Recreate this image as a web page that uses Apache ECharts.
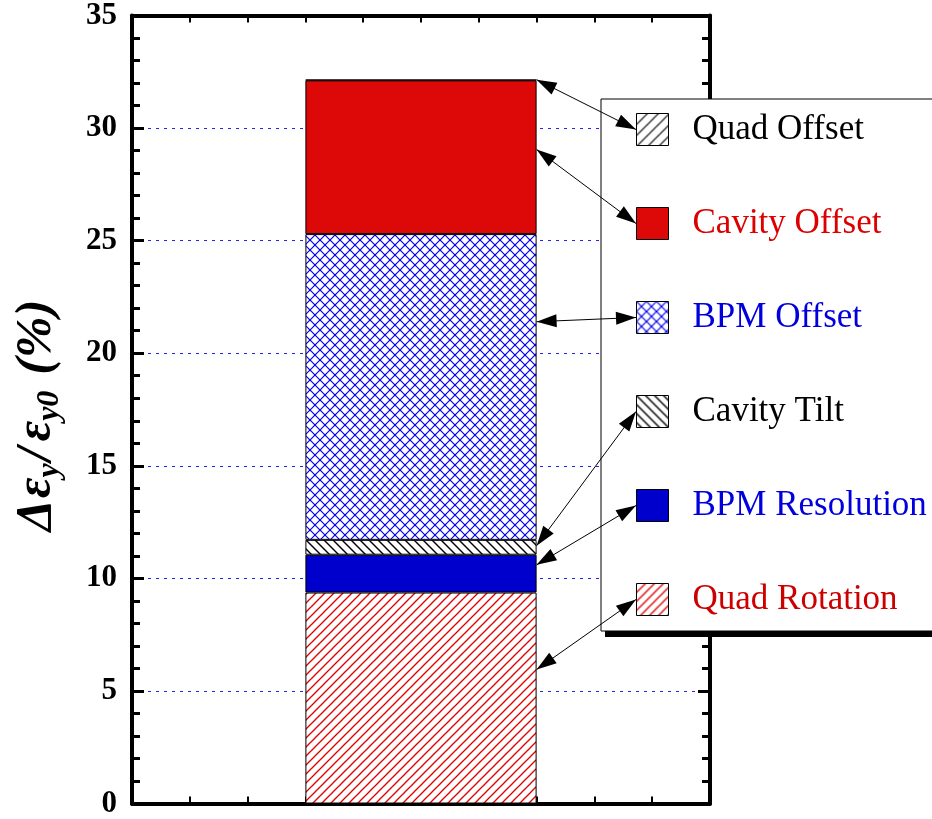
<!DOCTYPE html>
<html>
<head>
<meta charset="utf-8">
<script src="https://cdn.jsdelivr.net/npm/echarts@6/dist/echarts.min.js"></script>
<style>
  html, body { margin: 0; padding: 0; background: #fff; }
  #chart { width: 932px; height: 819px; }
</style>
</head>
<body>
<div id="chart"></div>
<script>
// Stacked contributions to the vertical emittance growth, bottom to top
const stackNames  = ['Quad Rotation', 'BPM Resolution', 'Cavity Tilt', 'BPM Offset', 'Cavity Offset', 'Quad Offset'];
const stackValues = [9.37, 1.68, 0.66, 13.58, 6.83, 0.03];

// Legend entries, top to bottom, with their text colours
const legendNames  = ['Quad Offset', 'Cavity Offset', 'BPM Offset', 'Cavity Tilt', 'BPM Resolution', 'Quad Rotation'];
const legendColors = ['#000000', '#dd0000', '#0000dd', '#000000', '#0000dd', '#cc0000'];

// Height on the bar where each legend arrow lands (same order as legendNames)
const arrowLevels = [32.15, 29.05, 21.4, 11.45, 10.6, 5.95];

// Axis settings
const yMin = 0, yMax = 35, yStep = 5;
const xMin = 0, xMax = 10, xStep = 1;
const barCategory = ['total'];
const barFrom = 3, barTo = 7;   // bar spans these ticks of the frame axis

// Hatch tiles used as pattern fills
function hatchTile(size, color, dirs, lw) {
  const c = document.createElement('canvas');
  c.width = c.height = size;
  const g = c.getContext('2d');
  g.fillStyle = '#ffffff';
  g.fillRect(0, 0, size, size);
  g.strokeStyle = color;
  g.lineWidth = lw;
  dirs.forEach(function (d) {
    [-size, 0, size].forEach(function (k) {
      g.beginPath();
      if (d === '/') { g.moveTo(k - 1, size + 1); g.lineTo(k + size + 1, -1); }
      else { g.moveTo(k - 1, -1); g.lineTo(k + size + 1, size + 1); }
      g.stroke();
    });
  });
  return { image: c, repeat: 'repeat' };
}

const fills = {
  'Quad Rotation': hatchTile(9, '#e00000', ['/'], 1.3),
  'BPM Resolution': '#0000cc',
  'Cavity Tilt': hatchTile(9, '#000000', ['\\'], 1.4),
  'BPM Offset': hatchTile(10, '#0000ee', ['/', '\\'], 1.2),
  'Cavity Offset': '#dd0808',
  'Quad Offset': hatchTile(11, '#000000', ['/'], 1.2)
};

const serif = 'Liberation Serif';

// Legend box geometry
const legLeft = 601, legTop = 99, padTop = 13, padBottom = 14, padLeft = 35;
const swatch = 32, legText = 35, legGap = 59;
const legPitch = legText + legGap;
const legHeight = padTop + (legendNames.length - 1) * legPitch + legText + padBottom;

const barSeries = stackNames.map(function (name, i) {
  return {
    name: name,
    type: 'bar',
    stack: 'total',
    xAxisIndex: 2,
    yAxisIndex: 0,
    barWidth: ((barTo - barFrom) / (xMax - xMin) * 100) + '%',
    itemStyle: { color: fills[name], borderColor: '#000', borderWidth: 1 },
    emphasis: { disabled: true },
    data: [stackValues[i]],
    z: 2
  };
});

const arrowData = legendNames.map(function (name, i) {
  return [
    { coord: [barTo, arrowLevels[i]] },
    { x: legLeft + padLeft, y: legTop + padTop + i * legPitch + legText / 2 }
  ];
});

const arrowSeries = {
  name: 'arrows',
  type: 'scatter',
  xAxisIndex: 0,
  yAxisIndex: 0,
  data: [],
  silent: true,
  z: 10,
  markLine: {
    silent: true,
    symbol: ['triangle', 'triangle'],
    symbolSize: [13, 20],
    symbolOffset: [[0, 10], [0, 10]],
    label: { show: false },
    lineStyle: { color: '#000', width: 1, type: 'solid' },
    emphasis: { disabled: true },
    data: arrowData,
    z: 10
  }
};

function frameXAxis(pos) {
  return {
    type: 'value', min: xMin, max: xMax, interval: xStep, position: pos,
    axisLine: { show: true, onZero: false, lineStyle: { color: '#000', width: 4 } },
    axisTick: { show: true, inside: true, length: 7, lineStyle: { color: '#000', width: 2 } },
    axisLabel: { show: false },
    splitLine: { show: false }
  };
}

function frameYAxis(pos, labels) {
  return {
    type: 'value', min: yMin, max: yMax, interval: yStep, position: pos,
    axisLine: { show: true, onZero: false, lineStyle: { color: '#000', width: 4 } },
    axisTick: { show: true, inside: true, length: 12, lineStyle: { color: '#000', width: 3 } },
    minorTick: { show: true, splitNumber: 5, length: 8, lineStyle: { color: '#000', width: 3 } },
    axisLabel: labels
      ? { color: '#000', fontFamily: serif, fontWeight: 'bold', fontSize: 31, margin: 15 }
      : { show: false },
    splitLine: labels
      ? { show: true, showMinLine: false, showMaxLine: false, lineStyle: { color: '#2020ff', width: 1, type: [3, 5] } }
      : { show: false }
  };
}

const yLeft = frameYAxis('left', true);
yLeft.name = '{d|Δ}{e|ε}{s|y}{sl|/}{e|ε}{s0|y0}{p|(%)}';
yLeft.nameLocation = 'middle';
yLeft.nameRotate = 90;
yLeft.nameGap = 66;
const nameFont = { fontFamily: serif, fontWeight: 'bold', fontStyle: 'italic', color: '#000' };
yLeft.nameTextStyle = Object.assign({}, nameFont, {
  rich: {
    d:  Object.assign({}, nameFont, { fontSize: 50, lineHeight: 58, verticalAlign: 'middle', padding: [0, 2, 0, 0] }),
    e:  Object.assign({}, nameFont, { fontSize: 50, lineHeight: 58, verticalAlign: 'middle' }),
    sl: Object.assign({}, nameFont, { fontSize: 50, lineHeight: 58, verticalAlign: 'middle', padding: [0, 6, 0, 2] }),
    s:  Object.assign({}, nameFont, { fontSize: 32, lineHeight: 32, verticalAlign: 'bottom' }),
    s0: Object.assign({}, nameFont, { fontSize: 32, lineHeight: 32, verticalAlign: 'bottom', padding: [0, 16, 0, 0] }),
    p:  Object.assign({}, nameFont, { fontSize: 50, lineHeight: 58, verticalAlign: 'middle', padding: [0, 12, 0, 0] })
  }
});

const option = {
  animation: false,
  backgroundColor: '#ffffff',
  grid: { left: 132, right: 222, top: 14, bottom: 14, containLabel: false },
  xAxis: [
    frameXAxis('bottom'),
    frameXAxis('top'),
    { type: 'category', data: barCategory, show: false, boundaryGap: true }
  ],
  yAxis: [yLeft, frameYAxis('right', false)],
  // Legend frame with its offset drop shadow
  graphic: [
    {
      type: 'rect', z: 4, silent: true,
      shape: { x: legLeft + 4, y: legTop + 6, width: 420, height: legHeight },
      style: { fill: '#000' }
    },
    {
      type: 'rect', z: 4, silent: true,
      shape: { x: legLeft, y: legTop, width: 420, height: legHeight },
      style: { fill: '#fff', stroke: '#000', lineWidth: 1 }
    }
  ],
  legend: {
    orient: 'vertical',
    left: legLeft,
    top: legTop,
    padding: [padTop, 20, padBottom, padLeft],
    itemWidth: swatch,
    itemHeight: swatch,
    itemGap: legGap,
    icon: 'rect',
    selectedMode: false,
    z: 5,
    textStyle: { fontFamily: serif, fontSize: 35, padding: [0, 0, 0, 19] },
    itemStyle: { borderColor: '#000', borderWidth: 1 },
    data: legendNames.map(function (n, i) {
      return { name: n, textStyle: { color: legendColors[i] } };
    })
  },
  series: barSeries.concat([arrowSeries])
};

const chart = echarts.init(document.getElementById('chart'), null, { renderer: 'canvas' });
chart.setOption(option);
</script>
</body>
</html>
